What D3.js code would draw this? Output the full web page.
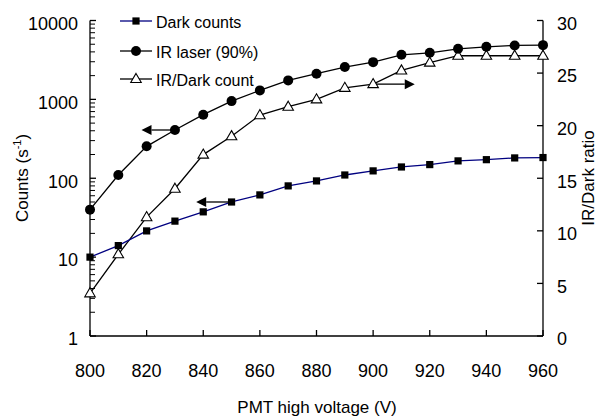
<!DOCTYPE html>
<html>
<head>
<meta charset="utf-8">
<script src="https://cdn.jsdelivr.net/npm/d3@7"></script>
<style>
  html, body { margin: 0; padding: 0; background: #fff; }
  svg { display: block; font-family: "Liberation Sans", Arial, sans-serif; }
</style>
</head>
<body>
<svg id="chart" width="599" height="416"></svg>
<script>
// ---- data ----
const voltage = [800, 810, 820, 830, 840, 850, 860, 870, 880, 890, 900, 910, 920, 930, 940, 950, 960];
const darkCounts = [10, 14, 21.5, 28.6, 37.5, 50, 61.5, 80, 92.5, 110, 124, 139, 149, 166, 172, 181, 183];
const irLaser = [40, 110, 254, 409, 640, 951, 1300, 1740, 2115, 2567, 2966, 3676, 3893, 4378, 4642, 4830, 4870];
const irDarkRatio = [4.06, 7.77, 11.3, 14.0, 17.25, 19.0, 21.0, 21.8, 22.5, 23.6, 23.95, 25.25, 26.0, 26.65, 26.65, 26.65, 26.65];
const xTicks = [800, 820, 840, 860, 880, 900, 920, 940, 960];
const yLeftTicks = [1, 10, 100, 1000, 10000];
const yRightTicks = [0, 5, 10, 15, 20, 25, 30];
const legendLabels = ["Dark counts", "IR laser (90%)", "IR/Dark count"];
// annotation arrows: [fromVoltage, toVoltage, value, axis]
const arrows = [
  { from: 830, to: 818.2, value: 409, axis: "left" },
  { from: 850, to: 837.5, value: 50, axis: "left" },
  { from: 900, to: 914.7, value: 23.95, axis: "right" }
];

// ---- layout ----
const svg = d3.select("#chart");
const x = d3.scaleLinear().domain([800, 960]).range([90, 543]);
const yL = d3.scaleLog().domain([1, 10000]).range([336, 20.5]);
const yR = d3.scaleLinear().domain([0, 30]).range([336, 20.5]);
const fontTick = 18;

// axis lines
const ax = svg.append("g").attr("stroke", "#000").attr("stroke-width", 1.3).attr("fill", "none");
ax.append("line").attr("x1", x(800)).attr("x2", x(800)).attr("y1", yL(10000)).attr("y2", yL(1));
ax.append("line").attr("x1", x(960)).attr("x2", x(960)).attr("y1", yR(30)).attr("y2", yR(0));
ax.append("line").attr("x1", x(800)).attr("x2", x(960)).attr("y1", yL(1)).attr("y2", yL(1));

// left major and minor ticks
const minor = [];
for (let d = 1; d < 10000; d *= 10) for (let m = 2; m <= 9; m++) minor.push(d * m);
ax.selectAll(".lmin").data(minor).join("line")
  .attr("x1", x(800)).attr("x2", x(800) + 5)
  .attr("y1", d => yL(d)).attr("y2", d => yL(d)).attr("stroke-width", 1);
ax.selectAll(".lmaj").data(yLeftTicks).join("line")
  .attr("x1", x(800)).attr("x2", x(800) + 6)
  .attr("y1", d => yL(d)).attr("y2", d => yL(d));
// right ticks
ax.selectAll(".rt").data(yRightTicks).join("line")
  .attr("x1", x(960) - 6).attr("x2", x(960))
  .attr("y1", d => yR(d)).attr("y2", d => yR(d));
// bottom ticks
ax.selectAll(".bt").data(xTicks).join("line")
  .attr("x1", d => x(d)).attr("x2", d => x(d))
  .attr("y1", yL(1) - 6).attr("y2", yL(1));

// tick labels
const tl = svg.append("g").attr("font-size", fontTick).attr("fill", "#000");
tl.selectAll(".xl").data(xTicks).join("text")
  .attr("x", d => x(d)).attr("y", 377).attr("text-anchor", "middle").text(d => d);
tl.selectAll(".yl").data(yLeftTicks).join("text")
  .attr("x", 78).attr("y", d => yL(d) + 9.3).attr("text-anchor", "end").text(d => d);
tl.selectAll(".yr").data(yRightTicks).join("text")
  .attr("x", 557).attr("y", d => yR(d) + 9.3).attr("text-anchor", "start").text(d => d);

// axis titles
svg.append("text").attr("font-size", 17).attr("text-anchor", "middle")
  .attr("x", 317).attr("y", 413).text("PMT high voltage (V)");
const lt = svg.append("text").attr("font-size", 17).attr("text-anchor", "middle")
  .attr("transform", "translate(28,178) rotate(-90)");
lt.append("tspan").text("Counts (s");
lt.append("tspan").attr("font-size", 11).attr("dy", -7).text("-1");
lt.append("tspan").attr("dy", 7).text(")");
svg.append("text").attr("font-size", 17).attr("text-anchor", "middle")
  .attr("transform", "translate(594,178) rotate(-90)").text("IR/Dark ratio");

// lines
const idx = d3.range(voltage.length);
const lineL = vals => d3.line().x(i => x(voltage[i])).y(i => yL(vals[i]))(idx);
const lineR = vals => d3.line().x(i => x(voltage[i])).y(i => yR(vals[i]))(idx);
svg.append("path").attr("d", lineL(irLaser)).attr("fill", "none").attr("stroke", "#000").attr("stroke-width", 1.3);
svg.append("path").attr("d", lineR(irDarkRatio)).attr("fill", "none").attr("stroke", "#000").attr("stroke-width", 1.3);
svg.append("path").attr("d", lineL(darkCounts)).attr("fill", "none").attr("stroke", "#000080").attr("stroke-width", 1.3);

// arrows
const ag = svg.append("g");
arrows.forEach(a => {
  const yy = a.axis === "left" ? yL(a.value) : yR(a.value);
  const x0 = x(a.from), x1 = x(a.to);
  const dir = Math.sign(x1 - x0);
  const base = x1 - dir * 10;
  ag.append("line").attr("x1", x0).attr("x2", base).attr("y1", yy).attr("y2", yy)
    .attr("stroke", "#000").attr("stroke-width", 1.3);
  ag.append("path").attr("d", `M${x1},${yy}L${base},${yy - 5}L${base},${yy + 5}Z`).attr("fill", "#000");
});

// markers
const tri = d3.symbol().type(d3.symbolTriangle).size(48);
svg.append("g").selectAll("path").data(idx).join("path")
  .attr("d", tri).attr("transform", i => `translate(${x(voltage[i])},${yR(irDarkRatio[i]) + 0.5})`)
  .attr("fill", "#fff").attr("stroke", "#000").attr("stroke-width", 1.1);
svg.append("g").selectAll("circle").data(idx).join("circle")
  .attr("cx", i => x(voltage[i])).attr("cy", i => yL(irLaser[i])).attr("r", 5).attr("fill", "#000");
svg.append("g").selectAll("rect").data(idx).join("rect")
  .attr("x", i => x(voltage[i]) - 3.6).attr("y", i => yL(darkCounts[i]) - 3.6)
  .attr("width", 7.2).attr("height", 7.2).attr("fill", "#000");

// legend
const legY = [21, 51, 79];
const lg = svg.append("g");
const lcol = ["#000080", "#000", "#000"];
legendLabels.forEach((lab, k) => {
  const yy = legY[k];
  lg.append("line").attr("x1", 120).attr("x2", 152).attr("y1", yy).attr("y2", yy)
    .attr("stroke", lcol[k]).attr("stroke-width", 1.3);
  if (k === 0) lg.append("rect").attr("x", 136 - 3.6).attr("y", yy - 3.6).attr("width", 7.2).attr("height", 7.2).attr("fill", "#000");
  if (k === 1) lg.append("circle").attr("cx", 136).attr("cy", yy).attr("r", 5).attr("fill", "#000");
  if (k === 2) lg.append("path").attr("d", tri).attr("transform", `translate(136,${yy + 0.5})`)
    .attr("fill", "#fff").attr("stroke", "#000").attr("stroke-width", 1.1);
  lg.append("text").attr("x", 156).attr("y", yy + 7).attr("font-size", 16).text(lab);
});
</script>
</body>
</html>
